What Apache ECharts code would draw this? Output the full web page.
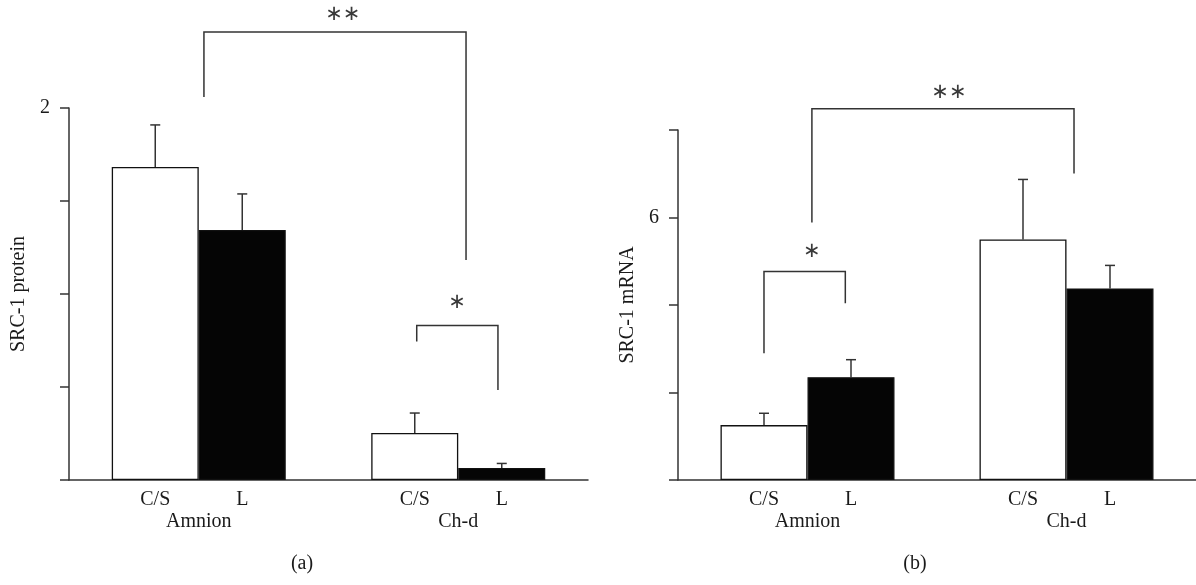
<!DOCTYPE html>
<html>
<head>
<meta charset="utf-8">
<script src="https://cdn.jsdelivr.net/npm/echarts@6/dist/echarts.min.js"></script>
<style>html,body{margin:0;padding:0;background:#fff}#c{width:1196px;height:585px}</style>
</head>
<body>
<div id="c"></div>
<script>
// ---- data ----
const categories = ['Amnion', 'Ch-d'];
const groupNames = ['C/S', 'L'];
// panel (a): SRC-1 protein
const proteinCS = [1.683, 0.253];
const proteinL = [1.344, 0.065];
const proteinCSErr = [0.226, 0.107];
const proteinLErr = [0.194, 0.024];
const proteinTickLabels = { 2: '2' };
// panel (b): SRC-1 mRNA
const mrnaCS = [1.255, 5.50];
const mrnaL = [2.35, 4.38];
const mrnaCSErr = [0.27, 1.37];
const mrnaLErr = [0.40, 0.525];
const mrnaTickLabels = { 6: '6' };
// significance brackets: [xLeft, yLeftEnd, yTop, xRight, yRightEnd, label, labelX, labelY]
// x in category units (0 = Amnion centre, 1 = Ch-d centre)
const proteinBrackets = [
  [0.02, 2.059, 2.409, 1.03, 1.183, '∗∗', 0.555, 2.505],
  [0.840, 0.744, 0.830, 1.153, 0.484, '∗', 0.995, 0.952]
];
const mrnaBrackets = [
  [0.017, 5.886, 8.487, 1.029, 7.004, '∗∗', 0.546, 8.852],
  [-0.168, 2.897, 4.768, 0.146, 4.038, '∗', 0.017, 5.225]
];

// ---- styles ----
const BAR_W = 87;
const SERIF = 'Liberation Serif, DejaVu Serif, serif';
const FS = 20;
const TXT = '#1a1a1a';
const LINE = '#333';

function errRender(params, api) {
  const cat = api.value(0), v = api.value(1), e = api.value(2), s = api.value(3);
  const dx = (s === 0 ? -1 : 1) * BAR_W / 2;
  const p0 = api.coord([cat, v]);
  const p1 = api.coord([cat, v + e]);
  const x = p0[0] + dx;
  return {
    type: 'group',
    children: [
      { type: 'line', shape: { x1: x, y1: p0[1], x2: x, y2: p1[1] }, style: { stroke: LINE, lineWidth: 1.5 } },
      { type: 'line', shape: { x1: x - 5, y1: p1[1], x2: x + 5, y2: p1[1] }, style: { stroke: LINE, lineWidth: 1.5 } }
    ]
  };
}
function makeBracketRender(list) {
  return function (params, api) {
    const b = list[params.dataIndex];
    const c0 = api.coord([0, 0])[0], c1 = api.coord([1, 0])[0];
    const band = c1 - c0;
    const px = v => c0 + band * v;
    const py = v => api.coord([0, v])[1];
    return {
      type: 'group',
      children: [
        { type: 'polyline', shape: { points: [[px(b[0]), py(b[1])], [px(b[0]), py(b[2])], [px(b[3]), py(b[2])], [px(b[3]), py(b[4])]] },
          style: { stroke: LINE, lineWidth: 1.5, fill: null } },
        { type: 'text', x: px(b[6]), y: py(b[7]),
          style: { text: b[5], font: '21px DejaVu Sans', fill: '#3a3a3a', align: 'center', verticalAlign: 'middle', textAlign: 'center', textVerticalAlign: 'middle' } }
      ]
    };
  };
}
function errData(cs, l, csErr, lErr) {
  const d = [];
  cs.forEach((v, i) => d.push([i, v, csErr[i], 0]));
  l.forEach((v, i) => d.push([i, v, lErr[i], 1]));
  return d;
}
function barSeries(name, data, color, axisIdx) {
  return {
    type: 'bar', name: name, data: data, xAxisIndex: axisIdx, yAxisIndex: axisIdx,
    barWidth: BAR_W, barGap: '0%', silent: true,
    itemStyle: { color: color, borderColor: '#111', borderWidth: 1.3 },
    label: { show: true, formatter: '{a}', position: ['50%', '100%'], offset: [0, 20], align: 'center', verticalAlign: 'middle',
      color: TXT, fontFamily: SERIF, fontSize: FS }
  };
}
function yAxis(idx, max, interval, labels, name) {
  return {
    type: 'value', gridIndex: idx, min: 0, max: max, interval: interval,
    name: name, nameLocation: 'middle', nameRotate: 90, nameGap: 40,
    nameTextStyle: { color: TXT, fontFamily: SERIF, fontSize: FS },
    axisLine: { show: true, lineStyle: { color: LINE, width: 1.5 } },
    axisTick: { show: true, length: 9, lineStyle: { color: LINE, width: 1.5 } },
    axisLabel: { margin: 19, color: TXT, fontFamily: SERIF, fontSize: FS, formatter: v => labels[v] || '' },
    splitLine: { show: false }
  };
}
function xAxis(idx) {
  return {
    type: 'category', gridIndex: idx, data: categories,
    axisLine: { show: true, lineStyle: { color: LINE, width: 1.5 } },
    axisTick: { show: false },
    axisLabel: { margin: 32, color: TXT, fontFamily: SERIF, fontSize: FS }
  };
}

const chart = echarts.init(document.getElementById('c'));
chart.setOption({
  animation: false,
  backgroundColor: '#fff',
  title: [
    { text: '(a)', left: 297, top: 549, textAlign: 'center', textStyle: { color: TXT, fontFamily: SERIF, fontSize: FS, fontWeight: 'normal' } },
    { text: '(b)', left: 910, top: 549, textAlign: 'center', textStyle: { color: TXT, fontFamily: SERIF, fontSize: FS, fontWeight: 'normal' } }
  ],
  grid: [
    { left: 69, width: 519, top: 108, bottom: 105 },
    { left: 678, width: 518, top: 130, bottom: 105 }
  ],
  xAxis: [xAxis(0), xAxis(1)],
  yAxis: [yAxis(0, 2, 0.5, proteinTickLabels, 'SRC-1 protein'), yAxis(1, 8, 2, mrnaTickLabels, 'SRC-1 mRNA')],
  series: [
    barSeries(groupNames[0], proteinCS, '#ffffff', 0),
    barSeries(groupNames[1], proteinL, '#050505', 0),
    barSeries(groupNames[0], mrnaCS, '#ffffff', 1),
    barSeries(groupNames[1], mrnaL, '#050505', 1),
    { type: 'custom', xAxisIndex: 0, yAxisIndex: 0, clip: false, silent: true, renderItem: errRender,
      data: errData(proteinCS, proteinL, proteinCSErr, proteinLErr), z: 1 },
    { type: 'custom', xAxisIndex: 1, yAxisIndex: 1, clip: false, silent: true, renderItem: errRender,
      data: errData(mrnaCS, mrnaL, mrnaCSErr, mrnaLErr), z: 1 },
    { type: 'custom', xAxisIndex: 0, yAxisIndex: 0, clip: false, silent: true, renderItem: makeBracketRender(proteinBrackets),
      data: proteinBrackets.map(b => [0, b[2]]) },
    { type: 'custom', xAxisIndex: 1, yAxisIndex: 1, clip: false, silent: true, renderItem: makeBracketRender(mrnaBrackets),
      data: mrnaBrackets.map(b => [0, b[2]]) }
  ]
});
</script>
</body>
</html>
